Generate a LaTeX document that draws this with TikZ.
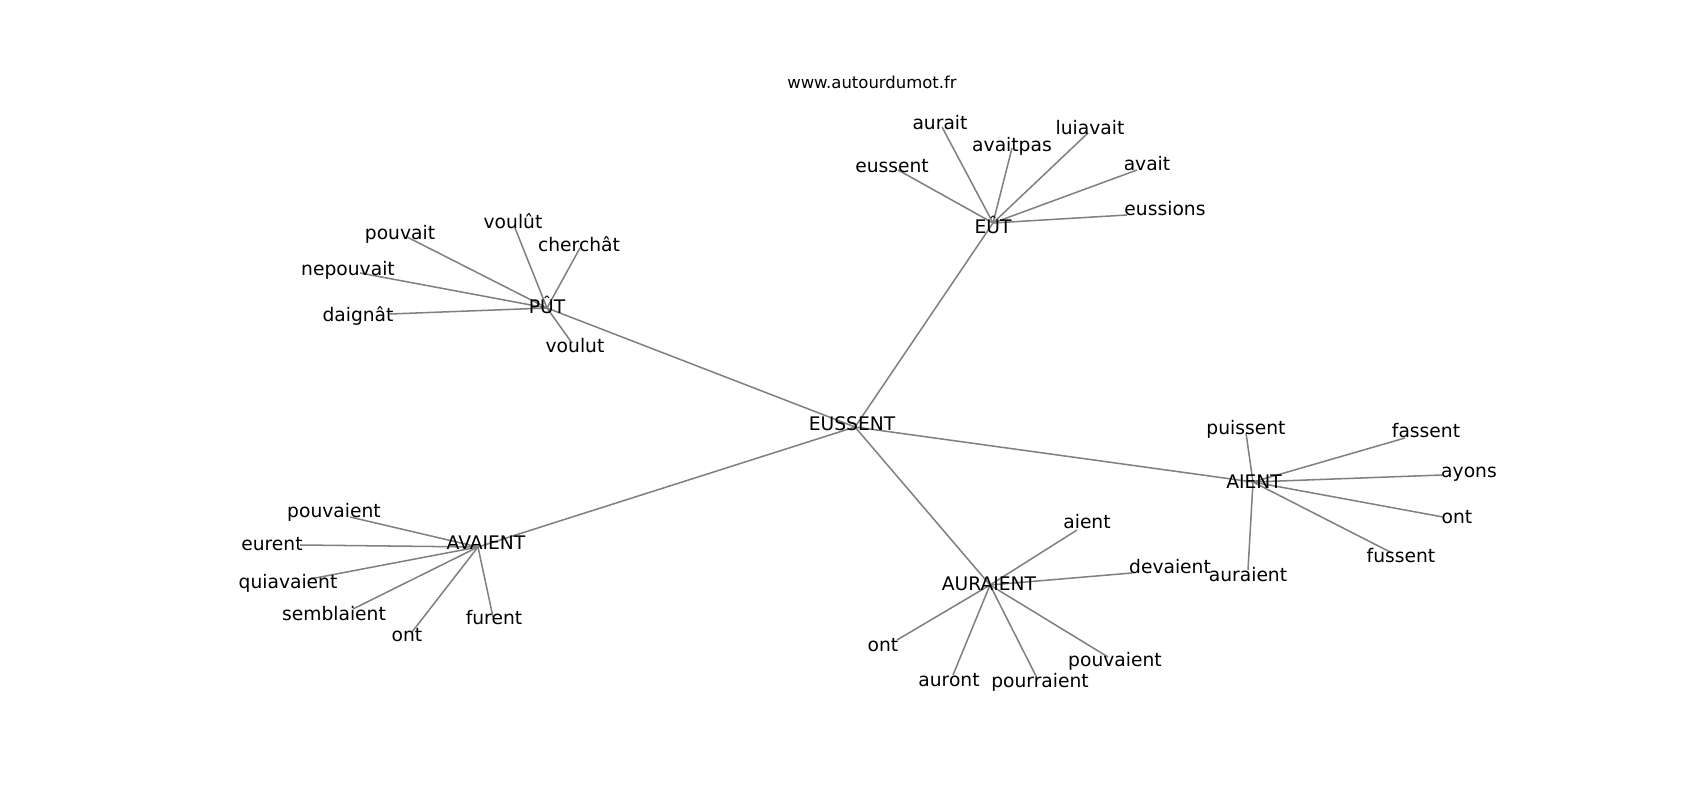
\documentclass[tikz,border=0pt]{standalone}
\usepackage{fontspec}
\setmainfont{DejaVu Sans}
\usepackage{tikz}
\tikzstyle{word} = [inner sep=0pt, text height=10.3pt, text depth=3.2pt, text=black, font=\fontsize{13.5}{16}\selectfont]
\tikzstyle{site} = [inner sep=0pt, text height=9pt, text depth=2.8pt, text=black, font=\fontsize{11.9}{14}\selectfont]
\tikzstyle{link} = [draw=gray, line width=1.1pt]
\begin{document}
\begin{tikzpicture}[x=0.01in, y=-0.01in]
\useasboundingbox (0,0) rectangle (1700,800);

% graph vertices
\coordinate (EUSSENT) at (855,427);
\coordinate (PUT) at (547,308);
\coordinate (EUT) at (993,223);
\coordinate (AIENT) at (1253,482);
\coordinate (AURAIENT) at (990,585);
\coordinate (AVAIENT) at (478,547);

\coordinate (put1) at (407,237);
\coordinate (put2) at (515,228);
\coordinate (put3) at (580,248);
\coordinate (put4) at (360,273);
\coordinate (put5) at (390,314);
\coordinate (put6) at (572,343);

\coordinate (eut1) at (898,170);
\coordinate (eut2) at (942,127);
\coordinate (eut3) at (1012,148);
\coordinate (eut4) at (1088,133);
\coordinate (eut5) at (1137,170);
\coordinate (eut6) at (1127,215);

\coordinate (aient1) at (1246,433);
\coordinate (aient2) at (1405,438);
\coordinate (aient3) at (1442,475);
\coordinate (aient4) at (1443,517);
\coordinate (aient5) at (1392,553);
\coordinate (aient6) at (1248,570);

\coordinate (aur1) at (1077,530);
\coordinate (aur2) at (1132,573);
\coordinate (aur3) at (897,640);
\coordinate (aur4) at (953,675);
\coordinate (aur5) at (1037,678);
\coordinate (aur6) at (1108,657);

\coordinate (av1) at (350,517);
\coordinate (av2) at (300,545);
\coordinate (av3) at (310,579);
\coordinate (av4) at (353,609);
\coordinate (av5) at (412,632);
\coordinate (av6) at (493,617);

% edges
\draw [link] (EUSSENT) -- (PUT);
\draw [link] (EUSSENT) -- (EUT);
\draw [link] (EUSSENT) -- (AIENT);
\draw [link] (EUSSENT) -- (AURAIENT);
\draw [link] (EUSSENT) -- (AVAIENT);

\draw [link] (PUT) -- (put1);
\draw [link] (PUT) -- (put2);
\draw [link] (PUT) -- (put3);
\draw [link] (PUT) -- (put4);
\draw [link] (PUT) -- (put5);
\draw [link] (PUT) -- (put6);

\draw [link] (EUT) -- (eut1);
\draw [link] (EUT) -- (eut2);
\draw [link] (EUT) -- (eut3);
\draw [link] (EUT) -- (eut4);
\draw [link] (EUT) -- (eut5);
\draw [link] (EUT) -- (eut6);

\draw [link] (AIENT) -- (aient1);
\draw [link] (AIENT) -- (aient2);
\draw [link] (AIENT) -- (aient3);
\draw [link] (AIENT) -- (aient4);
\draw [link] (AIENT) -- (aient5);
\draw [link] (AIENT) -- (aient6);

\draw [link] (AURAIENT) -- (aur1);
\draw [link] (AURAIENT) -- (aur2);
\draw [link] (AURAIENT) -- (aur3);
\draw [link] (AURAIENT) -- (aur4);
\draw [link] (AURAIENT) -- (aur5);
\draw [link] (AURAIENT) -- (aur6);

\draw [link] (AVAIENT) -- (av1);
\draw [link] (AVAIENT) -- (av2);
\draw [link] (AVAIENT) -- (av3);
\draw [link] (AVAIENT) -- (av4);
\draw [link] (AVAIENT) -- (av5);
\draw [link] (AVAIENT) -- (av6);

% labels
\node (site) [site] at (872,84) {www.autourdumot.fr};

\node (EUSSENT-w) [word] at (852,426) {EUSSENT};
\node (PUT-w) [word] at (547,309) {PÛT};
\node (EUT-w) [word] at (993,229) {EÛT};
\node (AIENT-w) [word] at (1254,484) {AIENT};
\node (AURAIENT-w) [word] at (989,586) {AURAIENT};
\node (AVAIENT-w) [word] at (486,545) {AVAIENT};

\node (put1-w) [word] at (400,235) {pouvait};
\node (put2-w) [word] at (513,224) {voulût};
\node (put3-w) [word] at (579,247) {cherchât};
\node (put4-w) [word] at (348,271) {nepouvait};
\node (put5-w) [word] at (358,317) {daignât};
\node (put6-w) [word] at (575,348) {voulut};

\node (eut1-w) [word] at (892,168) {eussent};
\node (eut2-w) [word] at (940,125) {aurait};
\node (eut3-w) [word] at (1012,147) {avaitpas};
\node (eut4-w) [word] at (1090,130) {luiavait};
\node (eut5-w) [word] at (1147,166) {avait};
\node (eut6-w) [word] at (1165,211) {eussions};

\node (aient1-w) [word] at (1246,430) {puissent};
\node (aient2-w) [word] at (1426,433) {fassent};
\node (aient3-w) [word] at (1469,473) {ayons};
\node (aient4-w) [word] at (1457,519) {ont};
\node (aient5-w) [word] at (1401,558) {fussent};
\node (aient6-w) [word] at (1248,577) {auraient};

\node (aur1-w) [word] at (1087,524) {aient};
\node (aur2-w) [word] at (1170,569) {devaient};
\node (aur3-w) [word] at (883,647) {ont};
\node (aur4-w) [word] at (949,682) {auront};
\node (aur5-w) [word] at (1040,683) {pourraient};
\node (aur6-w) [word] at (1115,662) {pouvaient};

\node (av1-w) [word] at (334,513) {pouvaient};
\node (av2-w) [word] at (272,546) {eurent};
\node (av3-w) [word] at (288,584) {quiavaient};
\node (av4-w) [word] at (334,616) {semblaient};
\node (av5-w) [word] at (407,637) {ont};
\node (av6-w) [word] at (494,620) {furent};

\end{tikzpicture}
\end{document}
